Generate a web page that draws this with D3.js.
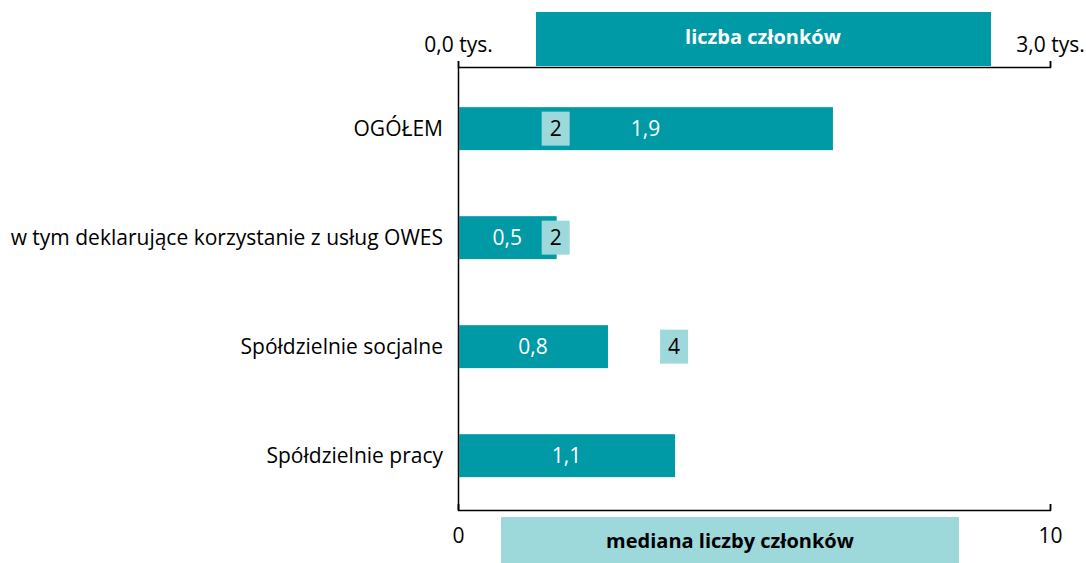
<!DOCTYPE html>
<html>
<head>
<meta charset="utf-8">
<script src="https://cdn.jsdelivr.net/npm/d3@7"></script>
<style>
body{margin:0;background:#fff;}
#canvas{width:1086px;height:563px;}
text{font-family:"Open Sans",sans-serif;}
</style>
</head>
<body>
<div id="canvas" class="canvas"></div>
<script>
// data
var categories = ['OGÓŁEM','w tym deklarujące korzystanie z usług OWES','Spółdzielnie socjalne','Spółdzielnie pracy'];
var members = [1.9, 0.5, 0.76, 1.1];       // tys.
var medians = [1.65, 1.65, 3.65, null];
var topTicks = [0, 3];
var bottomTicks = [0, 10];

var teal = '#009aa6', light = '#9dd8db';
var m = {t:67,r:36,b:53,l:458};
var outerWidth = 1086, outerHeight = 563;
var w = outerWidth - m.l - m.r,
    h = outerHeight - m.t - m.b;

var svg = d3.select('.canvas').append('svg')
    .attr('width',outerWidth).attr('height',outerHeight);
var plot = svg.append('g').attr('transform','translate(' + m.l + ',' + m.t + ')');

var scaleX = d3.scaleLinear().domain([0,3]).range([0,w]);
var scaleM = d3.scaleLinear().domain([0,10]).range([0,w]);
var scaleY = d3.scaleBand().domain(categories).range([0,h])
    .paddingInner(0.606).paddingOuter(0.335).align(0.55);

var fmt = function(v){return d3.format('.1f')(v).replace('.',',');};
var fs = '21px';

// legend boxes
svg.append('rect').attr('x',536).attr('y',12).attr('width',455).attr('height',54).attr('fill',teal);
svg.append('text').attr('x',763).attr('y',37).attr('dy','0.35em').attr('text-anchor','middle')
    .attr('fill','#fff').style('font-size','20px').style('font-weight','bold').text('liczba członków');
svg.append('rect').attr('x',501).attr('y',517).attr('width',458).attr('height',46).attr('fill',light);
svg.append('text').attr('x',730).attr('y',541).attr('dy','0.35em').attr('text-anchor','middle')
    .attr('fill','#000').style('font-size','20px').style('font-weight','bold').text('mediana liczby członków');

// axes
var axisTop = d3.axisTop(scaleX).tickValues(topTicks).tickSize(6).tickPadding(9)
    .tickFormat(function(d){return fmt(d) + ' tys.';});
var gt = plot.append('g').call(axisTop);
var axisBottom = d3.axisBottom(scaleM).tickValues(bottomTicks).tickSize(-6).tickPadding(18)
    .tickFormat(d3.format('d'));
var gb = plot.append('g').attr('transform','translate(0,' + h + ')').call(axisBottom);
[gt,gb].forEach(function(g){
    g.select('.domain').attr('stroke','#000').attr('stroke-width',1.5);
    g.selectAll('.tick line').attr('stroke','#000').attr('stroke-width',1.5);
    g.selectAll('.tick text').attr('fill','#000').style('font-size',fs).style('font-family','"Open Sans",sans-serif');
});
gb.select('.domain').attr('d','M0.5,-6V0.5H' + (w+0.5) + 'V-6');
gt.select('.domain').attr('d','M0.5,-6V0.5H' + (w+0.5) + 'V-6');
plot.append('line').attr('x1',0.5).attr('x2',0.5).attr('y1',0).attr('y2',h)
    .attr('stroke','#000').attr('stroke-width',1.5);

// category labels
plot.selectAll('.cat').data(categories).enter().append('text')
    .attr('x',-15).attr('y',function(d){return scaleY(d) + scaleY.bandwidth()/2;})
    .attr('dy','0.35em').attr('text-anchor','end').style('font-size',fs).attr('fill','#000')
    .text(function(d){return d;});

// bars
plot.selectAll('.bar').data(members).enter().append('rect')
    .attr('x',1).attr('y',function(d,i){return scaleY(categories[i]);})
    .attr('width',function(d){return scaleX(d) - 1;})
    .attr('height',scaleY.bandwidth()).attr('fill',teal);
plot.selectAll('.barlabel').data(members).enter().append('text')
    .attr('x',function(d){return scaleX(d)/2;})
    .attr('y',function(d,i){return scaleY(categories[i]) + scaleY.bandwidth()/2;})
    .attr('dy','0.35em').attr('text-anchor','middle').attr('fill','#fff').style('font-size',fs)
    .text(fmt);

// medians
var med = medians.map(function(d,i){return {v:d,c:categories[i]};}).filter(function(d){return d.v != null;});
plot.selectAll('.med').data(med).enter().append('rect')
    .attr('x',function(d){return scaleM(d.v) - 14;})
    .attr('y',function(d){return scaleY(d.c) + scaleY.bandwidth()/2 - 17;})
    .attr('width',28).attr('height',34).attr('fill',light);
plot.selectAll('.medlabel').data(med).enter().append('text')
    .attr('x',function(d){return scaleM(d.v);})
    .attr('y',function(d){return scaleY(d.c) + scaleY.bandwidth()/2;})
    .attr('dy','0.35em').attr('text-anchor','middle').attr('fill','#000').style('font-size',fs)
    .text(function(d){return d3.format('.0f')(d.v);});
</script>
</body>
</html>
